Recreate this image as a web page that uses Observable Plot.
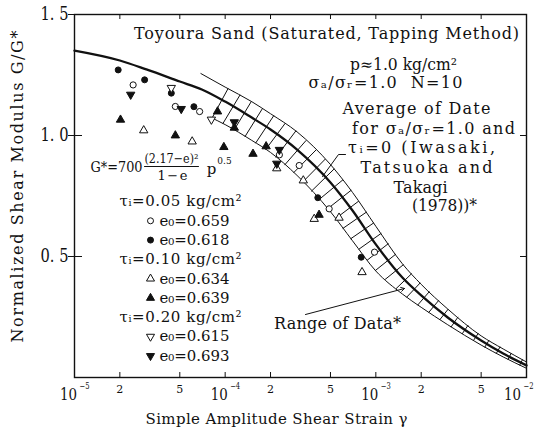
<!DOCTYPE html>
<html><head><meta charset="utf-8">
<script src="https://cdn.jsdelivr.net/npm/d3@7"></script>
<script src="https://cdn.jsdelivr.net/npm/@observablehq/plot@0.6"></script>
<style>
body{margin:0;background:#fff;}
#chart svg{display:block;}
#chart svg, #chart svg text{font-family:"DejaVu Serif",serif !important;}
</style></head><body><div id="chart"></div>
<script>
// ---------- data ----------
const strain = [1e-5,2e-5,3e-5,5e-5,7e-5,1e-4,1.5e-4,2e-4,3e-4,5e-4,7e-4,1e-3,1.5e-3,2e-3,3e-3,5e-3,7e-3,1e-2];
const averageG = [1.351,1.31,1.273,1.223,1.19,1.14,1.074,1.025,0.942,0.806,0.69,0.55,0.413,0.339,0.248,0.153,0.099,0.05];
const upperStrain = [6.9e-5,1e-4,1.5e-4,2e-4,3e-4,5e-4,7e-4,1e-3,1.5e-3,2e-3,3e-3,5e-3,7e-3,1e-2];
const upperG = [1.256,1.20,1.14,1.09,1.015,0.88,0.765,0.625,0.47,0.385,0.283,0.172,0.118,0.064];
const lowerStrain = [8e-5,1e-4,1.5e-4,2e-4,3e-4,5e-4,7e-4,1e-3,1.5e-3,2e-3,3e-3,5e-3,7e-3,1e-2];
const lowerG = [1.075,1.045,0.98,0.93,0.835,0.685,0.565,0.44,0.345,0.29,0.218,0.134,0.085,0.038];

const ocStrain = [2.45e-5,4.67e-5,6.77e-5,2.29e-4,3.1e-4,4.9e-4,9.8e-4];
const ocG      = [1.209,1.12,1.099,0.92,0.876,0.697,0.518];
const fcStrain = [1.95e-5,2.92e-5,4.39e-5,6.2e-5,4.12e-4,8.0e-4];
const fcG      = [1.271,1.23,1.175,1.119,0.743,0.497];
const otStrain = [2.88e-5,6.04e-5,2.2e-4,3.3e-4,3.9e-4,5.7e-4,8.1e-4];
const otG      = [1.021,0.975,0.864,0.814,0.655,0.66,0.435];
const ftStrain = [2.02e-5,4.67e-5,8.9e-5,9.8e-5,1.15e-4,1.53e-4,1.87e-4,4.2e-4];
const ftG      = [1.065,1.0,1.099,0.952,1.032,0.924,0.955,0.672];
const odStrain = [4.39e-5,8.1e-5];
const odG      = [1.197,1.066];
const fdStrain = [2.36e-5,5.11e-5,1.15e-4,2.29e-4,2.2e-4];
const fdG      = [1.169,1.11,1.055,0.941,0.884];

const majorTicks = [1e-5,1e-4,1e-3,1e-2];
const majorExponents = ["−5","−4","−3","−2"];
const minorTicks = [2e-5,5e-5,2e-4,5e-4,2e-3,5e-3];
const minorLabels = ["2","5","2","5","2","5"];
const gTicks = [0.5,1.0,1.5];
const gTickLabels = ["0. 5","1. 0","1. 5"];

// ---------- layout ----------
const W=537,H=431,ML=74,MR=11,MT=14,MB=54;
const FW=W-ML-MR, FH=H-MT-MB;
const xs = d3.scaleLog([1e-5,1e-2],[ML,W-MR]);
const ys = d3.scaleLinear([0,1.5],[H-MB,MT]);
const at = (px,py)=>({x:xs.invert(px), y:ys.invert(py)});

const zip=(S,G)=>S.map((s,i)=>({s,g:G[i]}));
const mainData=zip(strain,averageG), upData=zip(upperStrain,upperG), loData=zip(lowerStrain,lowerG);

// ---------- hatch of the data range band (rungs normal to the average curve) ----------
const toPx=d=>[xs(d.s),ys(d.g)];
const mainPx=mainData.map(toPx), upPx=upData.map(toPx), loPx=loData.map(toPx);
function hit(P,N,poly,sign){
  let best=null;
  for(let i=0;i<poly.length-1;i++){
    const A=poly[i],B=poly[i+1];
    const ex=B[0]-A[0],ey=B[1]-A[1];
    const ax=A[0]-P[0],ay=A[1]-P[1];
    const det=-N[0]*ey+ex*N[1];
    if(Math.abs(det)<1e-9)continue;
    const t=(-ax*ey+ex*ay)/det;
    const u=(N[0]*ay-N[1]*ax)/det;
    if(u>=0&&u<=1&&t*sign>0&&(best===null||Math.abs(t)<Math.abs(best)))best=t;
  }
  return best===null?null:[P[0]+best*N[0],P[1]+best*N[1]];
}
const cum=[0];
for(let i=1;i<mainPx.length;i++)cum.push(cum[i-1]+Math.hypot(mainPx[i][0]-mainPx[i-1][0],mainPx[i][1]-mainPx[i-1][1]));
function pointAt(s){
  s=Math.max(0,Math.min(cum[cum.length-1],s));
  let i=1;while(i<cum.length-1&&cum[i]<s)i++;
  const f=(s-cum[i-1])/(cum[i]-cum[i-1]);
  return [mainPx[i-1][0]+f*(mainPx[i][0]-mainPx[i-1][0]),mainPx[i-1][1]+f*(mainPx[i][1]-mainPx[i-1][1])];
}
const rungPts=[];
let k=0;
for(let s=0;s<cum[cum.length-1];s+=13){
  const P=pointAt(s); if(P[0]<216||P[0]>523)continue;
  const a=pointAt(s-10),b=pointAt(s+10);
  let tx=b[0]-a[0],ty=b[1]-a[1];const len=Math.hypot(tx,ty);tx/=len;ty/=len;
  const N=[ty,-tx];
  const U=hit(P,N,upPx,1), Lo=hit(P,N,loPx,-1);
  if(U&&Lo){
    rungPts.push({k,x:xs.invert(Lo[0]),y:ys.invert(Lo[1])});
    rungPts.push({k,x:xs.invert(U[0]),y:ys.invert(U[1])});
    k++;
  }
}

// ---------- annotations ----------
const F="DejaVu Serif";
const T={fontFamily:F,fill:"#111",stroke:null};
function ann(text,px,py,o={}){const p=at(px,py);return Plot.text([{...p,t:text}],{x:"x",y:"y",text:"t",fontSize:16,textAnchor:"middle",lineAnchor:"middle",...T,...o});}
const widths={
 "Toyoura Sand (Saturated, Tapping Method)":385,
 "p≈1.0 kg/cm²":107,
 "σₐ/σᵣ=1.0  N=10":154,
 "Average of Date":148,
 "for σₐ/σᵣ=1.0 and":163,
 "τᵢ=0 (Iwasaki,":147,
 "Tatsuoka and":132,
 "Takagi":54,
 "(1978))*":65,
 "Range of Data*":127,
 "Simple Amplitude Shear Strain γ":262,
 "Normalized Shear Modulus G/G*":312,
 "τᵢ=0.05 kg/cm²":122,"τᵢ=0.10 kg/cm²":122,"τᵢ=0.20 kg/cm²":122,
 "e₀=0.659":70,"e₀=0.618":70,"e₀=0.634":70,"e₀=0.639":70,"e₀=0.615":70,"e₀=0.693":70,
 "G*=700":52,"(2.17−e)²":54,"1−e":30,"1. 5":28,"1. 0":28,"0. 5":28,"10":17,
 "−5":10,"−4":10,"−3":10,"−2":10
};
const legendRows=[
 {t:"τᵢ=0.05 kg/cm²"},{m:"circle",f:"white",t:"e₀=0.659"},{m:"circle",f:"#111",t:"e₀=0.618"},
 {t:"τᵢ=0.10 kg/cm²"},{m:"triangle",f:"white",t:"e₀=0.634"},{m:"triangle",f:"#111",t:"e₀=0.639"},
 {t:"τᵢ=0.20 kg/cm²"},{m:"down",f:"white",t:"e₀=0.615"},{m:"down",f:"#111",t:"e₀=0.693"}
];
const legendMarks=[];
legendRows.forEach((r,i)=>{
  const py=201+i*19.3;
  if(!r.m){legendMarks.push(ann(r.t,180,py,{fontSize:15}));}
  else{
    const p=at(150,py);
    legendMarks.push(Plot.dot([p],{x:"x",y:"y",symbol:r.m==="circle"?"circle":"triangle",rotate:r.m==="down"?180:0,r:3,fill:r.f,stroke:"#111",strokeWidth:1}));
    legendMarks.push(ann(r.t,159,py,{fontSize:15,textAnchor:"start"}));
  }
});

function dots(S,G,symbol,fill,rot=0,r=3.1){
  return Plot.dot(zip(S,G),{x:"s",y:"g",symbol,fill,stroke:"#111",strokeWidth:1,r,rotate:rot});
}
const expDx=[5,5,5,-3], tenDx=[-6,-6,-6,-14];

const chart=Plot.plot({
  width:W,height:H,marginLeft:ML,marginRight:MR,marginTop:MT,marginBottom:MB,
  style:{fontFamily:F,background:"white",color:"#111"},
  x:{type:"log",domain:[1e-5,1e-2],axis:null},
  y:{domain:[0,1.5],axis:null},
  marks:[
    Plot.frame({stroke:"#111",strokeWidth:1.4}),
    Plot.tickX([...majorTicks,...minorTicks],{x:d=>d,insetTop:FH-5,stroke:"#111"}),
    Plot.tickX([...majorTicks,...minorTicks],{x:d=>d,insetBottom:FH-5,stroke:"#111"}),
    Plot.tickY(gTicks,{y:d=>d,insetLeft:-6,insetRight:FW-8,stroke:"#111"}),
    Plot.tickY(gTicks,{y:d=>d,insetLeft:FW-6,stroke:"#111"}),
    ...majorTicks.map((v,i)=>Plot.text([v],{x:d=>d,y:()=>ys.invert(394),text:()=>"10",dx:tenDx[i],fontSize:16,...T})),
    ...majorTicks.map((v,i)=>Plot.text([v],{x:d=>d,y:()=>ys.invert(386),text:()=>majorExponents[i],dx:expDx[i],textAnchor:"start",fontSize:9,...T})),
    Plot.text(minorTicks,{x:d=>d,y:()=>ys.invert(389),text:(d,i)=>minorLabels[i],fontSize:11,...T}),
    Plot.text(gTicks,{x:()=>xs.invert(68),y:d=>d,text:(d,i)=>gTickLabels[i],textAnchor:"end",fontSize:18,...T}),
    ann("Simple Amplitude Shear Strain γ",276,419,{fontSize:15}),
    ann("Normalized Shear Modulus G/G*",17,186,{fontSize:16,rotate:-90}),
    Plot.line(upData,{x:"s",y:"g",curve:"monotone-x",stroke:"#111",strokeWidth:1}),
    Plot.line(loData,{x:"s",y:"g",curve:"monotone-x",stroke:"#111",strokeWidth:1}),
    Plot.line(rungPts,{x:"x",y:"y",z:"k",curve:"linear",stroke:"#111",strokeWidth:1}),
    Plot.line(mainData,{x:"s",y:"g",curve:"monotone-x",stroke:"#111",strokeWidth:2.3}),
    dots(ocStrain,ocG,"circle","white"),
    dots(fcStrain,fcG,"circle","#111",0,3),
    dots(otStrain,otG,"triangle","white"),
    dots(ftStrain,ftG,"triangle","#111"),
    dots(odStrain,odG,"triangle","white",180),
    dots(fdStrain,fdG,"triangle","#111",180),
    ann("Toyoura Sand (Saturated, Tapping Method)",326,33),
    ann("p≈1.0 kg/cm²",403,64),
    ann("σₐ/σᵣ=1.0  N=10",385,82),
    ann("Average of Date",416,108),
    ann("for σₐ/σᵣ=1.0 and",433,128),
    ann("τᵢ=0 (Iwasaki,",421,147),
    ann("Tatsuoka and",426,167),
    ann("Takagi",420,187),
    ann("(1978))*",444,205),
    Plot.line([at(345,154),at(338,154),at(322,176)],{x:"x",y:"y",stroke:"#111",strokeWidth:1}),
    ann("Range of Data*",337,323),
    Plot.arrow([{a:at(305,314),b:at(404,288)}],{x1:d=>d.a.x,y1:d=>d.a.y,x2:d=>d.b.x,y2:d=>d.b.y,headLength:6,stroke:"#111",strokeWidth:1}),
    ann("G*=700",116,167,{fontSize:15}),
    ann("(2.17−e)²",171,158,{fontSize:13}),
    Plot.line([at(144,166),at(198,166)],{x:"x",y:"y",stroke:"#111",strokeWidth:1}),
    ann("1−e",172,175,{fontSize:13}),
    ann("p",211,169,{fontSize:15}),
    ann("0.5",224,161,{fontSize:9}),
    ...legendMarks
  ]
});
document.getElementById("chart").append(chart);
d3.select(chart).selectAll("text").each(function(){
  const t=this.textContent; const w=widths[t];
  if(w){
    const nat=this.getComputedTextLength();
    this.setAttribute("textLength",w);
    this.setAttribute("lengthAdjust",nat>w?"spacingAndGlyphs":"spacing");
  }
});
</script></body></html>
